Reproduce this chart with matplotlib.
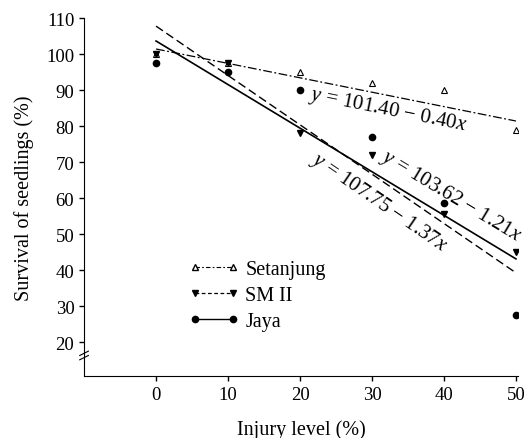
import matplotlib.pyplot as plt
import numpy as np

plt.rcParams['font.family'] = ['Liberation Serif', 'DejaVu Serif']
plt.rcParams['mathtext.fontset'] = 'custom'
plt.rcParams['mathtext.rm'] = 'Liberation Serif'
plt.rcParams['mathtext.it'] = 'Liberation Serif:italic'

# Data
injury = [0, 10, 20, 30, 40, 50]
setanjung = [100, 97.5, 95, 92, 90, 79]
sm2 = [100, 97.5, 78, 72, 55.5, 45]
jaya = [97.5, 95, 90, 77, 58.5, 27.5]

# regression lines (intercept, slope)
fit_setanjung = (101.40, -0.40)
fit_sm2 = (107.75, -1.37)
fit_jaya = (103.62, -1.21)

fig = plt.figure(figsize=(5.26, 4.39), dpi=100)
ax = fig.add_axes([0.1598, 0.1412, 0.8252, 0.8155])

xs = np.array([0, 50])
ax.plot(injury, setanjung, ls='none', marker='^', mfc='white', mec='black',
        ms=4, mew=0.8)
ax.plot(injury, sm2, ls='none', marker='v', color='black', ms=5)
ax.plot(injury, jaya, ls='none', marker='o', color='black', ms=4.5)
ax.plot(xs, fit_setanjung[0] + fit_setanjung[1] * xs, color='black', lw=0.9,
        dashes=[7, 2, 1.5, 2])
ax.plot(xs, fit_sm2[0] + fit_sm2[1] * xs, color='black', lw=1.0, dashes=[6, 3])
ax.plot(xs, fit_jaya[0] + fit_jaya[1] * xs, color='black', lw=1.2)

# legend handles
h1, = ax.plot([], [], color='black', lw=0.8, dashes=[4, 2, 1.5, 2], marker='^',
              mfc='white', mec='black', ms=4)
h2, = ax.plot([], [], color='black', lw=0.9, dashes=[3, 2], marker='v', ms=5)
h3, = ax.plot([], [], color='black', lw=1.0, marker='o', ms=4.5)
ax.legend([h1, h2, h3], ['Setanjung', 'SM II', 'Jaya'], numpoints=2,
          frameon=False, fontsize=14.5, handlelength=2.5, handletextpad=0.3,
          labelspacing=0.35, loc='lower left', bbox_to_anchor=(0.2, 0.075))

# equations
ax.text(32.2, 84.6, r'$y$ = 101.40 $-$ 0.40$x$', fontsize=15, rotation=-11.3,
        ha='center', va='center', rotation_mode='anchor')
ax.text(41.0, 60.6, r'$y$ = 103.62 $-$ 1.21$x$', fontsize=15, rotation=-31,
        ha='center', va='center', rotation_mode='anchor')
ax.text(30.9, 58.9, r'$y$ = 107.75 $-$ 1.37$x$', fontsize=15, rotation=-34.4,
        ha='center', va='center', rotation_mode='anchor')

ax.set_xlim(-10, 50.3)
ax.set_ylim(10.6, 110)
ax.set_xticks(injury)
ax.set_yticks(range(20, 111, 10))
ax.spines['top'].set_visible(False)
ax.spines['right'].set_visible(False)
ax.tick_params(direction='out', length=3.5, width=1, labelsize=13.5)
ax.set_xlabel('Injury level (%)', fontsize=14.5, labelpad=12)
ax.set_ylabel('Survival of seedlings (%)', fontsize=14.5, labelpad=9)

# axis break marks
for dy in (-0.6, 0.6):
    ax.plot([-10.6, -9.4], [16.3 + dy - 0.6, 16.3 + dy + 0.6], color='black',
            lw=0.8, clip_on=False)

fig.savefig('out.png', dpi=100)
